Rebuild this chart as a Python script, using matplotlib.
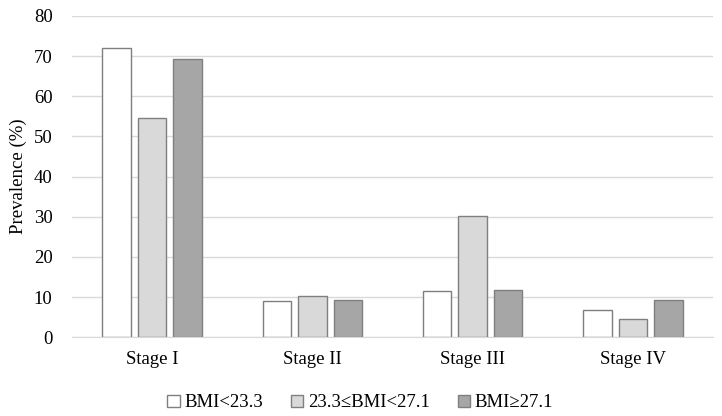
import matplotlib
matplotlib.use("Agg")
import matplotlib.pyplot as plt
import numpy as np

plt.rcParams['font.family'] = ['Liberation Serif', 'DejaVu Serif']

stages = ["Stage I", "Stage II", "Stage III", "Stage IV"]
series_names = ["BMI<23.3", "23.3\u2264BMI<27.1", "BMI\u226527.1"]
bmi_low = [72.0, 9.1, 11.5, 6.8]
bmi_mid = [54.7, 10.4, 30.1, 4.5]
bmi_high = [69.2, 9.3, 11.7, 9.3]
colors = ["#ffffff", "#d9d9d9", "#a6a6a6"]

fig = plt.figure(figsize=(7.22, 4.16), dpi=100)
ax = fig.add_axes([0.0997, 0.189, 0.8878, 0.773])

x = np.arange(len(stages))
width = 0.178
step = 0.222
for i, (vals, name) in enumerate(zip([bmi_low, bmi_mid, bmi_high], series_names)):
    ax.bar(x + (i - 1) * step, vals, width, color=colors[i], edgecolor="#7f7f7f",
           linewidth=1.0, label=name, zorder=3)

ax.set_xlim(-0.5, 3.5)
ax.set_ylim(0, 80)
ax.set_yticks(range(0, 81, 10))
ax.set_xticks(x)
ax.set_xticklabels(stages)
ax.grid(axis="y", color="#d9d9d9", linewidth=1.0, zorder=0)
for s in ["top", "right", "left"]:
    ax.spines[s].set_visible(False)
ax.spines["bottom"].set_color("#d9d9d9")
ax.spines["bottom"].set_zorder(4)
ax.tick_params(length=0, labelsize=13.5, colors="#000000", pad=10)
ax.tick_params(axis="y", pad=14)
ax.set_ylabel("Prevalence (%)", fontsize=13.5, labelpad=5)

ax.legend(loc="upper center", bbox_to_anchor=(0.45, -0.125), ncol=3, frameon=False,
          fontsize=13.5, handlelength=0.65, handleheight=0.65, handletextpad=0.25,
          columnspacing=1.5)

fig.savefig("out.png", dpi=100)
